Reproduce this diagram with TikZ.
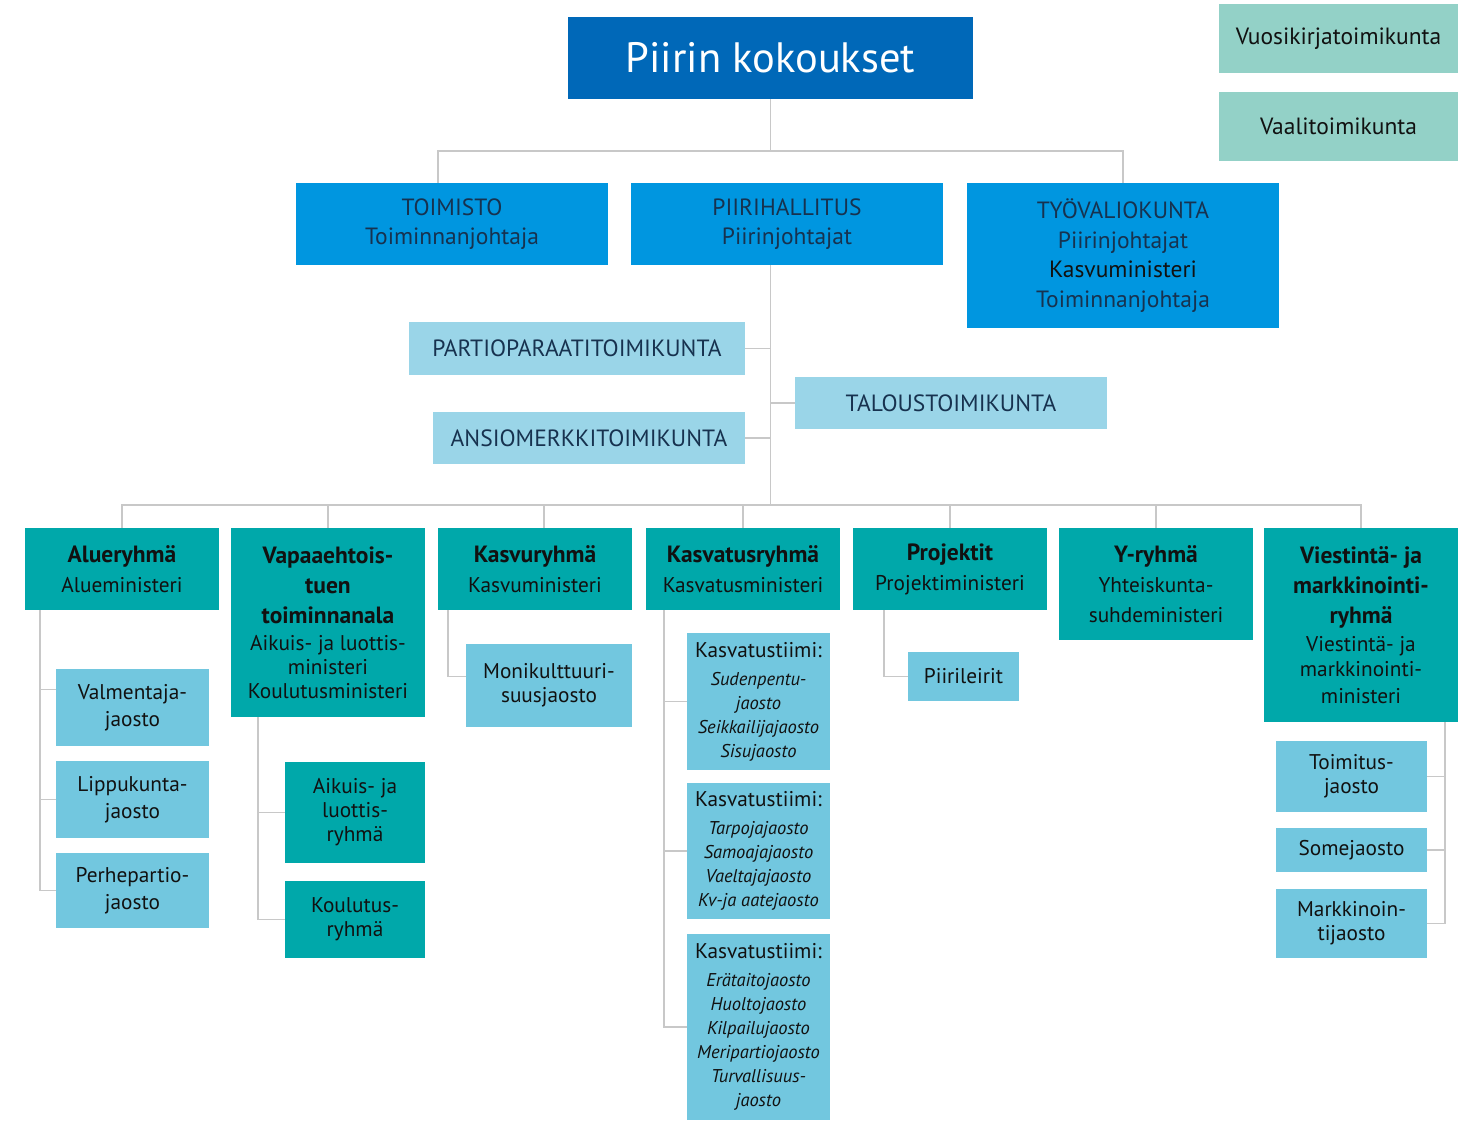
\documentclass[tikz,border=0pt]{standalone}
\usepackage{fontspec}
\setmainfont{PT Sans}

\definecolor{kokousblue}{HTML}{0068B8}
\definecolor{hallintoblue}{HTML}{0096E0}
\definecolor{toimikblue}{HTML}{9AD5E8}
\definecolor{ryhmateal}{HTML}{00A8AA}
\definecolor{jaostoblue}{HTML}{72C7DF}
\definecolor{sivumint}{HTML}{93D1C7}
\definecolor{tummateksti}{HTML}{17324F}
\definecolor{mustateksti}{HTML}{111111}
\definecolor{viiva}{HTML}{C8C8C8}

% ryhmien nimet isommalla lihavoinnilla
\newcommand{\lihava}[1]{{\fontsize{23.5}{30}\selectfont\bfseries #1}}

\begin{document}
\begin{tikzpicture}[x=1pt, y=-1pt]

\tikzset{
  box/.style={inner sep=0pt, align=center, anchor=center},
  koko/.style 2 args={minimum width=#1pt, minimum height=#2pt},
  kokous/.style={box, fill=kokousblue, text=white, font=\fontsize{42.5}{48}\selectfont},
  hallinto/.style={box, fill=hallintoblue, text=tummateksti, font=\fontsize{23.5}{29.5}\selectfont},
  toimik/.style={box, fill=toimikblue, text=tummateksti, font=\fontsize{23.5}{28}\selectfont},
  ryhma/.style={box, fill=ryhmateal, text=mustateksti, font=\fontsize{21.3}{30}\selectfont},
  jaosto/.style={box, fill=jaostoblue, text=mustateksti, font=\fontsize{21.3}{27}\selectfont},
  sivu/.style={box, fill=sivumint, text=mustateksti, font=\fontsize{23.5}{28}\selectfont},
  yhteys/.style={draw=viiva, line width=1.6pt}
}

\useasboundingbox (0,0) rectangle (1458,1120);

% --- Ylin taso ---
\node[kokous, koko={405}{82}] (kokous) at (770.5,58) {Piirin kokoukset};

% Erilliset toimikunnat oikeassa yläkulmassa
\node[sivu, koko={239}{69}] (vuosi) at (1338.5,38.5) {\raisebox{-3pt}{Vuosikirjatoimikunta}};
\node[sivu, koko={239}{69}] (vaali) at (1338.5,126.5) {\raisebox{-3pt}{Vaalitoimikunta}};

% --- Hallinto ---
\node[hallinto, koko={312}{82}] (toimisto) at (452,224) {TOIMISTO\\Toiminnanjohtaja};
\node[hallinto, koko={312}{82}] (piiri) at (787,224) {PIIRIHALLITUS\\Piirinjohtajat};
\node[hallinto, koko={312}{145}] (tyova) at (1123,255.5)
  {TYÖVALIOKUNTA\\Piirinjohtajat\\\textcolor{mustateksti}{Kasvuministeri}\\Toiminnanjohtaja};

% --- Piirihallituksen toimikunnat ---
\node[toimik, koko={336}{53}] (partio) at (577,348.5) {PARTIOPARAATITOIMIKUNTA};
\node[toimik, koko={312}{52}] (talous) at (951,403) {TALOUSTOIMIKUNTA};
\node[toimik, koko={312}{52}] (ansio) at (589,438) {ANSIOMERKKITOIMIKUNTA};

% --- Ryhmät ---
\node[ryhma, koko={194}{82}] (alue) at (122,569) {\lihava{Alueryhmä}\\Alueministeri};
\node[ryhma, koko={194}{189}] (vapaa) at (328,622.5)
  {\lihava{Vapaaehtois-}\\\lihava{tuen}\\\lihava{toiminnanala}\\[-3pt]Aikuis- ja luottis-\\[-6pt]ministeri\\[-6pt]Koulutusministeri};
\node[ryhma, koko={194}{82}] (kasvu) at (535,569) {\lihava{Kasvuryhmä}\\Kasvuministeri};
\node[ryhma, koko={194}{82}] (kasvatus) at (743,569) {\lihava{Kasvatusryhmä}\\Kasvatusministeri};
\node[ryhma, koko={194}{82}] (projekt) at (950,569) {\lihava{Projektit}\\Projektiministeri};
\node[ryhma, koko={194}{112}] (yryhma) at (1156,584) {\lihava{Y-ryhmä}\\Yhteiskunta-\\suhdeministeri};
\node[ryhma, koko={194}{194}] (viesti) at (1361,625)
  {\lihava{Viestintä- ja}\\\lihava{markkinointi-}\\\lihava{ryhmä}\\[-2pt]Viestintä- ja\\[-5pt]markkinointi-\\[-3pt]ministeri};

% --- Jaostot ---
% Alueryhmä
\node[jaosto, koko={153}{77}] (valm) at (132.5,707.5) {Valmentaja-\\jaosto};
\node[jaosto, koko={153}{77}] (lippu) at (132.5,799.5) {Lippukunta-\\jaosto};
\node[jaosto, koko={153}{75}] (perhe) at (132.5,890.5) {Perhepartio-\\jaosto};

% Vapaaehtoistuki
\node[ryhma, koko={140}{101}, font=\fontsize{21.3}{24}\selectfont] (aikuis) at (355,812.5) {Aikuis- ja\\luottis-\\ryhmä};
\node[ryhma, koko={140}{77}, font=\fontsize{21.3}{24}\selectfont] (koulu) at (355,919.5) {Koulutus-\\ryhmä};

% Kasvuryhmä
\node[jaosto, koko={166}{83}, font=\fontsize{21.3}{24}\selectfont] (moni) at (549,685.5) {Monikulttuuri-\\suusjaosto};

% Kasvatusryhmä
\node[jaosto, koko={143}{137}, font=\fontsize{18.5}{24}\selectfont] (tiimi1) at (758.5,701.5)
  {{\fontsize{21.3}{24}\selectfont Kasvatustiimi:}\\[4pt]\textit{Sudenpentu-}\\\textit{jaosto}\\\textit{Seikkailijajaosto}\\\textit{Sisujaosto}};
\node[jaosto, koko={143}{136}, font=\fontsize{18.5}{24}\selectfont] (tiimi2) at (758.5,851)
  {{\fontsize{21.3}{24}\selectfont Kasvatustiimi:}\\[4pt]\textit{Tarpojajaosto}\\\textit{Samoajajaosto}\\\textit{Vaeltajajaosto}\\\textit{Kv-ja aatejaosto}};
\node[jaosto, koko={143}{186}, font=\fontsize{18.5}{24}\selectfont] (tiimi3) at (758.5,1027)
  {{\fontsize{21.3}{24}\selectfont Kasvatustiimi:}\\[4pt]\textit{Erätaitojaosto}\\\textit{Huoltojaosto}\\\textit{Kilpailujaosto}\\\textit{Meripartiojaosto}\\\textit{Turvallisuus-}\\\textit{jaosto}};

% Projektit
\node[jaosto, koko={111}{49}] (leirit) at (963.5,676.5) {Piirileirit};

% Viestintä ja markkinointi
\node[jaosto, koko={151}{71}, font=\fontsize{21.3}{24}\selectfont] (toimitus) at (1351.5,776.5) {Toimitus-\\jaosto};
\node[jaosto, koko={151}{44}] (some) at (1351.5,850) {Somejaosto};
\node[jaosto, koko={151}{69}, font=\fontsize{21.3}{24}\selectfont] (markk) at (1351.5,923.5) {Markkinoin-\\tijaosto};

% --- Yhteydet ---
\coordinate (jako) at (770.5,151);
\coordinate (runko) at (770.5,505);

\draw[yhteys] (kokous.south) -- (jako);
\draw[yhteys] ([xshift=-14pt]toimisto.north) |- (jako) -| (tyova.north);
\draw[yhteys] (piiri.south -| jako) -- (runko);

\draw[yhteys] (partio.east) -- (partio.east -| runko);
\draw[yhteys] (talous.west) -- (talous.west -| runko);
\draw[yhteys] (ansio.east) -- (ansio.east -| runko);

\draw[yhteys] (alue.north) |- (runko) -| (viesti.north);
\draw[yhteys] (vapaa.north) -- (vapaa.north |- runko);
\draw[yhteys] ([xshift=9pt]kasvu.north) -- ([xshift=9pt]kasvu.north |- runko);
\draw[yhteys] (kasvatus.north) -- (kasvatus.north |- runko);
\draw[yhteys] (projekt.north) -- (projekt.north |- runko);
\draw[yhteys] (yryhma.north) -- (yryhma.north |- runko);

\draw[yhteys] ([xshift=15pt]alue.south west) |- ([yshift=18pt]valm.west);
\draw[yhteys] ([xshift=15pt]alue.south west) |- (lippu.west);
\draw[yhteys] ([xshift=15pt]alue.south west) |- (perhe.west);

\draw[yhteys] ([xshift=27pt]vapaa.south west) |- (aikuis.west);
\draw[yhteys] ([xshift=27pt]vapaa.south west) |- (koulu.west);

\draw[yhteys] ([xshift=10pt]kasvu.south west) |- ([yshift=9pt]moni.west);

\draw[yhteys] ([xshift=18pt]kasvatus.south west) |- (tiimi1.west);
\draw[yhteys] ([xshift=18pt]kasvatus.south west) |- (tiimi2.west);
\draw[yhteys] ([xshift=18pt]kasvatus.south west) |- (tiimi3.west);

\draw[yhteys] ([xshift=31pt]projekt.south west) |- (leirit.west);

\draw[yhteys] ([xshift=-13pt]viesti.south east) |- (toimitus.east);
\draw[yhteys] ([xshift=-13pt]viesti.south east) |- (some.east);
\draw[yhteys] ([xshift=-13pt]viesti.south east) |- (markk.east);

\end{tikzpicture}
\end{document}
